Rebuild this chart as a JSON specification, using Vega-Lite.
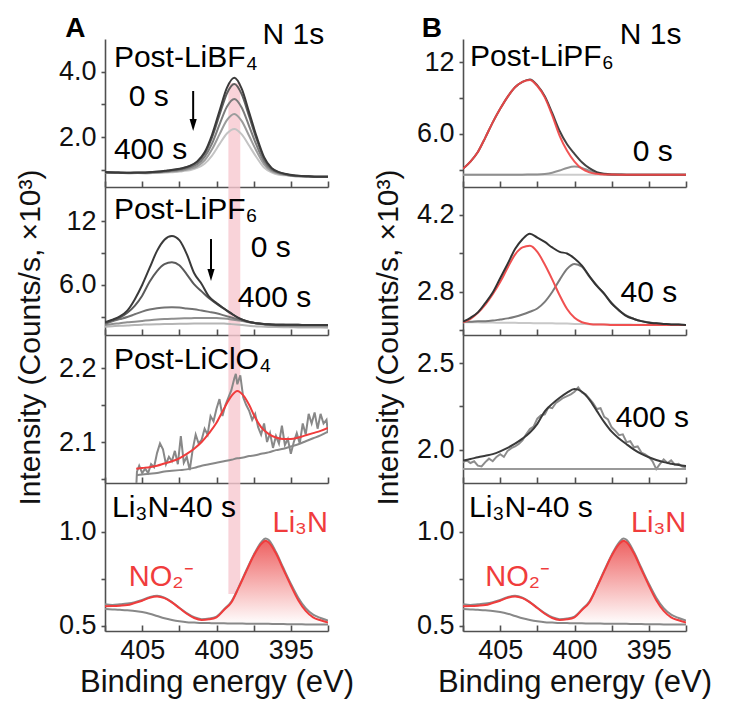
{
"$schema":"https://vega.github.io/schema/vega-lite/v6.json",
"autosize":{"type":"pad"},
"padding":{"left":14,"top":14,"right":4,"bottom":4},
"config":{"view":{"stroke":null},
 "axis":{"domainColor":"#505050","domainWidth":1.6,"tickColor":"#505050","tickWidth":1.6,"grid":false,"labelFont":"Liberation Sans","labelFontSize":27,"labelColor":"#111","titleFont":"Liberation Sans","titleFontSize":30,"titleFontWeight":"normal","titleColor":"#111","labelFlush":false,"labelOverlap":false},
 "text":{"font":"Liberation Sans"}},
"datasets":{
"a1":[
{"e":407.5,"l5":0.92,"l4":0.91,"l3":0.91,"l2":0.91,"l1":0.91},
{"e":406.8,"l5":0.91,"l4":0.91,"l3":0.90,"l2":0.90,"l1":0.90},
{"e":406.3,"l5":0.90,"l4":0.90,"l3":0.90,"l2":0.90,"l1":0.89},
{"e":405.8,"l5":0.90,"l4":0.90,"l3":0.89,"l2":0.89,"l1":0.88},
{"e":405.3,"l5":0.91,"l4":0.90,"l3":0.90,"l2":0.89,"l1":0.89},
{"e":404.8,"l5":0.91,"l4":0.90,"l3":0.90,"l2":0.89,"l1":0.88},
{"e":404.3,"l5":0.92,"l4":0.92,"l3":0.91,"l2":0.90,"l1":0.89},
{"e":403.8,"l5":0.94,"l4":0.94,"l3":0.92,"l2":0.91,"l1":0.90},
{"e":403.3,"l5":0.97,"l4":0.96,"l3":0.94,"l2":0.93,"l1":0.91},
{"e":402.8,"l5":1.00,"l4":0.99,"l3":0.97,"l2":0.95,"l1":0.92},
{"e":402.3,"l5":1.04,"l4":1.03,"l3":1.00,"l2":0.97,"l1":0.95},
{"e":401.8,"l5":1.11,"l4":1.10,"l3":1.06,"l2":1.02,"l1":0.98},
{"e":401.3,"l5":1.25,"l4":1.22,"l3":1.16,"l2":1.10,"l1":1.05},
{"e":400.8,"l5":1.53,"l4":1.49,"l3":1.39,"l2":1.28,"l1":1.18},
{"e":400.3,"l5":2.07,"l4":1.99,"l3":1.80,"l2":1.62,"l1":1.43},
{"e":399.8,"l5":2.80,"l4":2.68,"l3":2.38,"l2":2.08,"l1":1.78},
{"e":399.3,"l5":3.51,"l4":3.34,"l3":2.93,"l2":2.52,"l1":2.11},
{"e":398.8,"l5":3.82,"l4":3.63,"l3":3.17,"l2":2.71,"l1":2.25},
{"e":398.3,"l5":3.48,"l4":3.31,"l3":2.90,"l2":2.49,"l1":2.08},
{"e":397.8,"l5":2.75,"l4":2.63,"l3":2.33,"l2":2.03,"l1":1.73},
{"e":397.3,"l5":2.01,"l4":1.93,"l3":1.74,"l2":1.56,"l1":1.37},
{"e":396.8,"l5":1.38,"l4":1.34,"l3":1.25,"l2":1.16,"l1":1.06},
{"e":396.3,"l5":1.05,"l4":1.03,"l3":0.99,"l2":0.95,"l1":0.91},
{"e":395.8,"l5":0.92,"l4":0.91,"l3":0.89,"l2":0.87,"l1":0.84},
{"e":395.3,"l5":0.86,"l4":0.85,"l3":0.84,"l2":0.83,"l1":0.82},
{"e":394.8,"l5":0.82,"l4":0.81,"l3":0.81,"l2":0.80,"l1":0.79},
{"e":394.3,"l5":0.80,"l4":0.80,"l3":0.79,"l2":0.79,"l1":0.78},
{"e":393.8,"l5":0.79,"l4":0.79,"l3":0.79,"l2":0.78,"l1":0.78},
{"e":393.3,"l5":0.78,"l4":0.78,"l3":0.78,"l2":0.78,"l1":0.78},
{"e":392.8,"l5":0.78,"l4":0.78,"l3":0.78,"l2":0.78,"l1":0.78},
{"e":392.5,"l5":0.78,"l4":0.78,"l3":0.78,"l2":0.78,"l1":0.78}],
"a2":[
{"e":407.5,"l5":2.50,"l4":2.44,"l3":2.34,"l2":2.25,"l1":2.09},
{"e":407.0,"l5":2.75,"l4":2.70,"l3":2.60,"l2":2.35,"l1":2.13},
{"e":406.5,"l5":3.05,"l4":2.95,"l3":2.80,"l2":2.42,"l1":2.17},
{"e":406.0,"l5":3.60,"l4":3.40,"l3":3.00,"l2":2.50,"l1":2.20},
{"e":405.5,"l5":4.65,"l4":4.05,"l3":3.25,"l2":2.56,"l1":2.25},
{"e":405.0,"l5":6.00,"l4":5.00,"l3":3.50,"l2":2.63,"l1":2.28},
{"e":404.5,"l5":7.60,"l4":6.30,"l3":3.70,"l2":2.70,"l1":2.30},
{"e":404.0,"l5":9.20,"l4":7.30,"l3":3.82,"l2":2.76,"l1":2.32},
{"e":403.5,"l5":10.25,"l4":7.95,"l3":3.90,"l2":2.80,"l1":2.34},
{"e":403.0,"l5":10.60,"l4":8.13,"l3":3.92,"l2":2.83,"l1":2.35},
{"e":402.5,"l5":10.20,"l4":7.85,"l3":3.88,"l2":2.86,"l1":2.36},
{"e":402.0,"l5":8.90,"l4":7.00,"l3":3.80,"l2":2.88,"l1":2.37},
{"e":401.5,"l5":7.10,"l4":6.05,"l3":3.72,"l2":2.90,"l1":2.38},
{"e":401.0,"l5":6.10,"l4":5.40,"l3":3.60,"l2":2.91,"l1":2.39},
{"e":400.5,"l5":4.90,"l4":4.75,"l3":3.48,"l2":2.91,"l1":2.40},
{"e":400.0,"l5":4.30,"l4":4.25,"l3":3.35,"l2":2.90,"l1":2.40},
{"e":399.5,"l5":3.80,"l4":3.78,"l3":3.15,"l2":2.85,"l1":2.38},
{"e":399.0,"l5":3.33,"l4":3.30,"l3":2.95,"l2":2.77,"l1":2.33},
{"e":398.5,"l5":2.90,"l4":2.89,"l3":2.75,"l2":2.67,"l1":2.27},
{"e":398.0,"l5":2.62,"l4":2.61,"l3":2.58,"l2":2.55,"l1":2.20},
{"e":397.5,"l5":2.45,"l4":2.45,"l3":2.45,"l2":2.43,"l1":2.14},
{"e":397.0,"l5":2.37,"l4":2.37,"l3":2.36,"l2":2.33,"l1":2.10},
{"e":396.5,"l5":2.31,"l4":2.31,"l3":2.30,"l2":2.24,"l1":2.07},
{"e":396.0,"l5":2.28,"l4":2.28,"l3":2.27,"l2":2.18,"l1":2.05},
{"e":395.5,"l5":2.27,"l4":2.27,"l3":2.26,"l2":2.15,"l1":2.04},
{"e":395.0,"l5":2.26,"l4":2.26,"l3":2.25,"l2":2.14,"l1":2.03},
{"e":394.5,"l5":2.26,"l4":2.26,"l3":2.25,"l2":2.13,"l1":2.02},
{"e":394.0,"l5":2.25,"l4":2.25,"l3":2.25,"l2":2.13,"l1":2.02},
{"e":393.5,"l5":2.25,"l4":2.25,"l3":2.24,"l2":2.12,"l1":2.01},
{"e":393.0,"l5":2.25,"l4":2.25,"l3":2.24,"l2":2.12,"l1":2.01},
{"e":392.5,"l5":2.24,"l4":2.24,"l3":2.24,"l2":2.12,"l1":2.00}],
"a3f":[
{"e":405.4,"f":2.064,"b":2.055},{"e":405.0,"f":2.065,"b":2.056},{"e":404.5,"f":2.066,"b":2.057},{"e":404.0,"f":2.068,"b":2.058},
{"e":403.5,"f":2.071,"b":2.060},{"e":403.0,"f":2.074,"b":2.061},{"e":402.5,"f":2.078,"b":2.062},{"e":402.0,"f":2.084,"b":2.063},
{"e":401.5,"f":2.091,"b":2.065},{"e":401.0,"f":2.100,"b":2.068},{"e":400.5,"f":2.112,"b":2.070},{"e":400.0,"f":2.126,"b":2.072},
{"e":399.5,"f":2.145,"b":2.074},{"e":399.0,"f":2.162,"b":2.076},{"e":398.6,"f":2.169,"b":2.078},{"e":398.2,"f":2.163,"b":2.079},
{"e":397.8,"f":2.150,"b":2.081},{"e":397.4,"f":2.133,"b":2.082},{"e":397.0,"f":2.120,"b":2.084},{"e":396.5,"f":2.111,"b":2.086},
{"e":396.0,"f":2.106,"b":2.089},{"e":395.5,"f":2.104,"b":2.091},{"e":395.0,"f":2.104,"b":2.094},{"e":394.5,"f":2.106,"b":2.097},
{"e":394.0,"f":2.109,"b":2.101},{"e":393.5,"f":2.112,"b":2.105},{"e":393.0,"f":2.115,"b":2.109},{"e":392.5,"f":2.119,"b":2.114}],
"a3d":[
{"e":405.42,"v":2.03},{"e":405.35,"v":2.060},{"e":405.2,"v":2.068},{"e":405.0,"v":2.058},{"e":404.8,"v":2.064},{"e":404.6,"v":2.058},
{"e":404.4,"v":2.070},{"e":404.2,"v":2.066},{"e":404.0,"v":2.085},{"e":403.8,"v":2.098},{"e":403.6,"v":2.090},{"e":403.4,"v":2.070},
{"e":403.2,"v":2.080},{"e":403.0,"v":2.074},{"e":402.8,"v":2.088},{"e":402.6,"v":2.070},{"e":402.4,"v":2.108},{"e":402.2,"v":2.072},
{"e":402.0,"v":2.080},{"e":401.8,"v":2.062},{"e":401.6,"v":2.090},{"e":401.4,"v":2.110},{"e":401.2,"v":2.098},{"e":401.0,"v":2.103},
{"e":400.8,"v":2.118},{"e":400.6,"v":2.110},{"e":400.4,"v":2.135},{"e":400.2,"v":2.128},{"e":400.0,"v":2.145},{"e":399.8,"v":2.158},
{"e":399.6,"v":2.135},{"e":399.4,"v":2.150},{"e":399.2,"v":2.160},{"e":399.0,"v":2.170},{"e":398.8,"v":2.186},{"e":398.7,"v":2.192},
{"e":398.6,"v":2.178},{"e":398.4,"v":2.190},{"e":398.2,"v":2.160},{"e":398.0,"v":2.150},{"e":397.8,"v":2.142},{"e":397.6,"v":2.130},
{"e":397.4,"v":2.138},{"e":397.2,"v":2.120},{"e":397.0,"v":2.110},{"e":396.8,"v":2.125},{"e":396.6,"v":2.100},{"e":396.4,"v":2.112},
{"e":396.2,"v":2.092},{"e":396.0,"v":2.108},{"e":395.8,"v":2.098},{"e":395.6,"v":2.122},{"e":395.4,"v":2.096},{"e":395.2,"v":2.104},
{"e":395.0,"v":2.084},{"e":394.8,"v":2.100},{"e":394.6,"v":2.112},{"e":394.4,"v":2.098},{"e":394.2,"v":2.125},{"e":394.0,"v":2.110},
{"e":393.8,"v":2.138},{"e":393.6,"v":2.125},{"e":393.4,"v":2.140},{"e":393.2,"v":2.118},{"e":393.0,"v":2.138},{"e":392.8,"v":2.125},
{"e":392.6,"v":2.130},{"e":392.5,"v":2.112}],
"li":[
{"e":407.5,"f":0.605,"b":0.590,"d":0.615},{"e":407.0,"f":0.606,"b":0.588,"d":0.612},{"e":406.5,"f":0.608,"b":0.586,"d":0.615},
{"e":406.0,"f":0.611,"b":0.583,"d":0.619},{"e":405.5,"f":0.622,"b":0.580,"d":0.626},{"e":405.0,"f":0.634,"b":0.574,"d":0.638},
{"e":404.5,"f":0.650,"b":0.565,"d":0.653},{"e":404.0,"f":0.657,"b":0.553,"d":0.661},{"e":403.5,"f":0.648,"b":0.541,"d":0.651},
{"e":403.0,"f":0.625,"b":0.532,"d":0.627},{"e":402.5,"f":0.595,"b":0.525,"d":0.597},{"e":402.0,"f":0.565,"b":0.520,"d":0.568},
{"e":401.5,"f":0.542,"b":0.518,"d":0.546},{"e":401.0,"f":0.532,"b":0.516,"d":0.536},{"e":400.5,"f":0.535,"b":0.515,"d":0.539},
{"e":400.0,"f":0.546,"b":0.514,"d":0.550},{"e":399.5,"f":0.585,"b":0.514,"d":0.588},{"e":399.0,"f":0.625,"b":0.513,"d":0.630},
{"e":398.5,"f":0.705,"b":0.513,"d":0.708},{"e":398.0,"f":0.790,"b":0.512,"d":0.795},{"e":397.5,"f":0.873,"b":0.512,"d":0.878},
{"e":397.0,"f":0.935,"b":0.511,"d":0.945},{"e":396.7,"f":0.953,"b":0.511,"d":0.965},{"e":396.5,"f":0.945,"b":0.511,"d":0.958},
{"e":396.0,"f":0.885,"b":0.510,"d":0.893},{"e":395.5,"f":0.800,"b":0.510,"d":0.808},{"e":395.0,"f":0.715,"b":0.509,"d":0.725},
{"e":394.5,"f":0.637,"b":0.509,"d":0.650},{"e":394.0,"f":0.580,"b":0.508,"d":0.594},{"e":393.5,"f":0.546,"b":0.508,"d":0.560},
{"e":393.0,"f":0.530,"b":0.507,"d":0.542},{"e":392.5,"f":0.518,"b":0.507,"d":0.528}],
"lia":[
{"e":400.5,"v":0.535,"b":0.515},{"e":400.0,"v":0.546,"b":0.514},{"e":399.5,"v":0.585,"b":0.514},{"e":399.0,"v":0.625,"b":0.513},
{"e":398.5,"v":0.705,"b":0.513},{"e":398.0,"v":0.790,"b":0.512},{"e":397.5,"v":0.873,"b":0.512},{"e":397.0,"v":0.935,"b":0.511},
{"e":396.7,"v":0.953,"b":0.511},{"e":396.5,"v":0.945,"b":0.511},{"e":396.0,"v":0.885,"b":0.510},{"e":395.5,"v":0.800,"b":0.510},
{"e":395.0,"v":0.715,"b":0.509},{"e":394.5,"v":0.637,"b":0.509},{"e":394.0,"v":0.580,"b":0.508},{"e":393.5,"v":0.546,"b":0.508},
{"e":393.0,"v":0.530,"b":0.507},{"e":392.5,"v":0.518,"b":0.507}],
"b1":[
{"e":407.5,"s":3.10,"r":3.10,"g":2.61,"b":2.60},{"e":407.0,"s":3.70,"r":3.70,"g":2.61,"b":2.60},{"e":406.5,"s":4.50,"r":4.50,"g":2.61,"b":2.60},
{"e":406.0,"s":5.70,"r":5.70,"g":2.61,"b":2.60},{"e":405.5,"s":6.97,"r":6.97,"g":2.61,"b":2.60},{"e":405.0,"s":8.10,"r":8.10,"g":2.61,"b":2.60},
{"e":404.5,"s":9.10,"r":9.10,"g":2.61,"b":2.60},{"e":404.0,"s":9.90,"r":9.90,"g":2.61,"b":2.60},{"e":403.5,"s":10.35,"r":10.35,"g":2.61,"b":2.60},
{"e":403.0,"s":10.55,"r":10.50,"g":2.62,"b":2.60},{"e":402.5,"s":10.05,"r":10.00,"g":2.63,"b":2.60},{"e":402.0,"s":9.15,"r":9.05,"g":2.67,"b":2.60},
{"e":401.5,"s":7.75,"r":7.55,"g":2.77,"b":2.60},{"e":401.0,"s":6.25,"r":5.85,"g":2.95,"b":2.60},{"e":400.5,"s":5.15,"r":4.60,"g":3.17,"b":2.60},
{"e":400.0,"s":4.35,"r":3.70,"g":3.28,"b":2.60},{"e":399.5,"s":3.65,"r":3.10,"g":3.17,"b":2.60},{"e":399.0,"s":3.15,"r":2.80,"g":2.93,"b":2.60},
{"e":398.5,"s":2.82,"r":2.68,"g":2.74,"b":2.60},{"e":398.0,"s":2.68,"r":2.63,"g":2.65,"b":2.60},{"e":397.5,"s":2.63,"r":2.62,"g":2.62,"b":2.60},
{"e":397.0,"s":2.62,"r":2.61,"g":2.61,"b":2.60},{"e":396.5,"s":2.61,"r":2.61,"g":2.61,"b":2.60},{"e":396.0,"s":2.61,"r":2.61,"g":2.61,"b":2.60},
{"e":395.0,"s":2.61,"r":2.61,"g":2.61,"b":2.60},{"e":394.0,"s":2.61,"r":2.61,"g":2.61,"b":2.60},{"e":393.0,"s":2.61,"r":2.61,"g":2.61,"b":2.60},
{"e":392.5,"s":2.61,"r":2.61,"g":2.61,"b":2.60}],
"b2":[
{"e":407.5,"s":2.26,"r":2.25,"g":2.26,"b":2.25},{"e":407.0,"s":2.33,"r":2.31,"g":2.26,"b":2.25},{"e":406.5,"s":2.43,"r":2.42,"g":2.27,"b":2.25},
{"e":406.0,"s":2.60,"r":2.57,"g":2.27,"b":2.245},{"e":405.5,"s":2.79,"r":2.76,"g":2.28,"b":2.245},{"e":405.0,"s":3.05,"r":2.98,"g":2.30,"b":2.24},
{"e":404.5,"s":3.31,"r":3.24,"g":2.32,"b":2.24},{"e":404.0,"s":3.58,"r":3.48,"g":2.35,"b":2.24},{"e":403.5,"s":3.76,"r":3.61,"g":2.39,"b":2.235},
{"e":403.0,"s":3.86,"r":3.64,"g":2.44,"b":2.235},{"e":402.5,"s":3.79,"r":3.53,"g":2.50,"b":2.23},{"e":402.0,"s":3.71,"r":3.30,"g":2.62,"b":2.23},
{"e":401.5,"s":3.61,"r":3.03,"g":2.80,"b":2.23},{"e":401.0,"s":3.53,"r":2.74,"g":3.02,"b":2.225},{"e":400.5,"s":3.50,"r":2.49,"g":3.22,"b":2.225},
{"e":400.0,"s":3.41,"r":2.33,"g":3.31,"b":2.22},{"e":399.5,"s":3.28,"r":2.25,"g":3.26,"b":2.22},{"e":399.0,"s":3.09,"r":2.22,"g":3.08,"b":2.215},
{"e":398.5,"s":2.91,"r":2.21,"g":2.92,"b":2.215},{"e":398.0,"s":2.77,"r":2.21,"g":2.76,"b":2.21},{"e":397.5,"s":2.59,"r":2.20,"g":2.60,"b":2.21},
{"e":397.0,"s":2.47,"r":2.20,"g":2.46,"b":2.21},{"e":396.5,"s":2.36,"r":2.20,"g":2.37,"b":2.21},{"e":396.0,"s":2.31,"r":2.20,"g":2.31,"b":2.205},
{"e":395.5,"s":2.27,"r":2.20,"g":2.27,"b":2.205},{"e":395.0,"s":2.24,"r":2.20,"g":2.25,"b":2.205},{"e":394.5,"s":2.23,"r":2.20,"g":2.23,"b":2.20},
{"e":394.0,"s":2.22,"r":2.20,"g":2.22,"b":2.20},{"e":393.5,"s":2.21,"r":2.20,"g":2.21,"b":2.20},{"e":393.0,"s":2.21,"r":2.20,"g":2.21,"b":2.20},
{"e":392.5,"s":2.20,"r":2.20,"g":2.20,"b":2.20}],
"b3f":[
{"e":407.5,"f":1.939,"b":1.89},{"e":407.0,"f":1.948,"b":1.89},{"e":406.5,"f":1.958,"b":1.89},{"e":406.0,"f":1.967,"b":1.89},
{"e":405.5,"f":1.976,"b":1.89},{"e":405.0,"f":1.992,"b":1.89},{"e":404.5,"f":2.012,"b":1.89},{"e":404.0,"f":2.036,"b":1.89},
{"e":403.5,"f":2.065,"b":1.89},{"e":403.0,"f":2.100,"b":1.89},{"e":402.5,"f":2.150,"b":1.89},{"e":402.0,"f":2.222,"b":1.89},
{"e":401.5,"f":2.265,"b":1.89},{"e":401.0,"f":2.300,"b":1.89},{"e":400.5,"f":2.330,"b":1.89},{"e":400.0,"f":2.350,"b":1.89},
{"e":399.5,"f":2.335,"b":1.89},{"e":399.0,"f":2.290,"b":1.89},{"e":398.5,"f":2.225,"b":1.89},{"e":398.0,"f":2.160,"b":1.89},
{"e":397.5,"f":2.105,"b":1.89},{"e":397.0,"f":2.066,"b":1.89},{"e":396.5,"f":2.033,"b":1.89},{"e":396.0,"f":2.002,"b":1.89},
{"e":395.5,"f":1.977,"b":1.89},{"e":395.0,"f":1.958,"b":1.89},{"e":394.5,"f":1.942,"b":1.89},{"e":394.0,"f":1.930,"b":1.89},
{"e":393.5,"f":1.921,"b":1.89},{"e":393.0,"f":1.913,"b":1.89},{"e":392.5,"f":1.907,"b":1.89}],
"b3d":[
{"e":407.5,"v":1.93},{"e":407.25,"v":1.94},{"e":407.0,"v":1.925},{"e":406.75,"v":1.935},{"e":406.5,"v":1.91},{"e":406.25,"v":1.905},
{"e":406.0,"v":1.93},{"e":405.75,"v":1.95},{"e":405.5,"v":1.935},{"e":405.25,"v":1.96},{"e":405.0,"v":1.975},{"e":404.75,"v":1.96},
{"e":404.5,"v":1.995},{"e":404.25,"v":2.01},{"e":404.0,"v":2.02},{"e":403.75,"v":2.035},{"e":403.5,"v":2.055},{"e":403.25,"v":2.09},
{"e":403.0,"v":2.12},{"e":402.75,"v":2.135},{"e":402.5,"v":2.18},{"e":402.25,"v":2.2},{"e":402.0,"v":2.205},{"e":401.75,"v":2.245},
{"e":401.5,"v":2.24},{"e":401.25,"v":2.27},{"e":401.0,"v":2.285},{"e":400.75,"v":2.3},{"e":400.5,"v":2.31},{"e":400.25,"v":2.32},
{"e":400.0,"v":2.335},{"e":399.75,"v":2.36},{"e":399.5,"v":2.33},{"e":399.25,"v":2.32},{"e":399.0,"v":2.295},{"e":398.75,"v":2.27},
{"e":398.5,"v":2.235},{"e":398.25,"v":2.24},{"e":398.0,"v":2.19},{"e":397.75,"v":2.175},{"e":397.5,"v":2.13},{"e":397.25,"v":2.11},
{"e":397.0,"v":2.085},{"e":396.75,"v":2.09},{"e":396.5,"v":2.045},{"e":396.25,"v":2.05},{"e":396.0,"v":2.015},{"e":395.75,"v":2.02},
{"e":395.5,"v":1.985},{"e":395.25,"v":1.975},{"e":395.0,"v":1.96},{"e":394.75,"v":1.935},{"e":394.5,"v":1.89},{"e":394.25,"v":1.92},
{"e":394.0,"v":1.945},{"e":393.75,"v":1.925},{"e":393.5,"v":1.94},{"e":393.25,"v":1.915},{"e":393.0,"v":1.92},{"e":392.75,"v":1.905},
{"e":392.5,"v":1.9}]
},
"hconcat":[
{"vconcat":[
 {"width":223,"height":148,
  "encoding":{"x":{"field":"e","type":"quantitative","scale":{"domain":[392.5,407.5],"reverse":true,"nice":false,"zero":false},"axis":{"values":[407.5,405,402.5,400,397.5,395,392.5],"labels":false,"tickSize":-6,"title":null}},
   "y":{"field":"v","type":"quantitative","scale":{"domain":[0.462,5.015],"nice":false,"zero":false},"axis":{"values":[1,2,3,4],"tickSize":4,"labelPadding":5,"labelExpr":"datum.value==2?'2.0':datum.value==4?'4.0':''","title":null}}},
  "layer":[
   {"data":{"values":[{"e":399.2,"e2":398.4,"v":0.462,"v2":3.65}]},"mark":{"type":"rect","color":"#f8c8cf","opacity":0.8},"encoding":{"x2":{"field":"e2"},"y2":{"field":"v2"}}},
   {"data":{"name":"a1"},"transform":[{"fold":["l1","l2","l3","l4","l5"],"as":["k","v"]}],"mark":{"type":"line","strokeWidth":2,"interpolate":"monotone","clip":true},"encoding":{"color":{"field":"k","type":"nominal","scale":{"domain":["l1","l2","l3","l4","l5"],"range":["#c4c4c4","#9c9c9c","#7c7c7c","#5e5e5e","#3a3a3a"]},"legend":null}}},
   {"data":{"values":[{"e":406.9,"v":4.15,"t":"Post-LiBF₄"},{"e":396.9,"v":4.86,"t":"N 1s"},{"e":405.9,"v":2.95,"t":"0 s"},{"e":406.9,"v":1.32,"t":"400 s"}]},"mark":{"type":"text","align":"left","baseline":"alphabetic","fontSize":30,"color":"#000"},"encoding":{"text":{"field":"t"}}},
   {"data":{"values":[{"e":409.5,"v":5.08,"t":"A"}]},"mark":{"type":"text","align":"center","baseline":"alphabetic","fontSize":28,"fontWeight":"bold","color":"#000"},"encoding":{"text":{"field":"t"}}},
   {"data":{"values":[{"e":401.57,"v":3.415,"v2":2.37}]},"mark":{"type":"rule","strokeWidth":2,"color":"#000"},"encoding":{"y2":{"field":"v2"}}},
   {"data":{"values":[{"e":401.57,"v":2.37}]},"mark":{"type":"point","shape":"M-0.6,-1L0.6,-1L0,1Z","size":144,"filled":true,"color":"#000","opacity":1},"encoding":{}}
  ]},
 {"width":223,"height":148,
  "encoding":{"x":{"field":"e","type":"quantitative","scale":{"domain":[392.5,407.5],"reverse":true,"nice":false,"zero":false},"axis":{"values":[407.5,405,402.5,400,397.5,395,392.5],"labels":false,"tickSize":-6,"title":null}},
   "y":{"field":"v","type":"quantitative","scale":{"domain":[1.31,15.19],"nice":false,"zero":false},"axis":{"values":[3,6,9,12],"tickSize":4,"labelPadding":5,"labelExpr":"datum.value==6?'6.0':datum.value==12?'12':''","title":"Intensity (Counts/s, ×10³)","titleAngle":270,"titleAlign":"center","titleBaseline":"top","titleX":-90,"titleY":150}}},
  "layer":[
   {"data":{"values":[{"e":399.2,"e2":398.4,"v":1.31,"v2":15.19}]},"mark":{"type":"rect","color":"#f8c8cf","opacity":0.8},"encoding":{"x2":{"field":"e2"},"y2":{"field":"v2"}}},
   {"data":{"name":"a2"},"transform":[{"fold":["l1","l2","l3","l4","l5"],"as":["k","v"]}],"mark":{"type":"line","strokeWidth":2,"interpolate":"monotone","clip":true},"encoding":{"color":{"field":"k","type":"nominal","scale":{"domain":["l1","l2","l3","l4","l5"],"range":["#b5b5b5","#8f8f8f","#737373","#5a5a5a","#3a3a3a"]},"legend":null}}},
   {"data":{"values":[{"e":406.9,"v":12.19,"t":"Post-LiPF₆"},{"e":397.7,"v":8.63,"t":"0 s"},{"e":398.57,"v":3.94,"t":"400 s"}]},"mark":{"type":"text","align":"left","baseline":"alphabetic","fontSize":30,"color":"#000"},"encoding":{"text":{"field":"t"}}},
   {"data":{"values":[{"e":400.37,"v":10.31,"v2":6.94}]},"mark":{"type":"rule","strokeWidth":2,"color":"#000"},"encoding":{"y2":{"field":"v2"}}},
   {"data":{"values":[{"e":400.37,"v":6.94}]},"mark":{"type":"point","shape":"M-0.6,-1L0.6,-1L0,1Z","size":144,"filled":true,"color":"#000","opacity":1},"encoding":{}}
  ]},
 {"width":223,"height":148,
  "encoding":{"x":{"field":"e","type":"quantitative","scale":{"domain":[392.5,407.5],"reverse":true,"nice":false,"zero":false},"axis":{"values":[407.5,405,402.5,400,397.5,395,392.5],"labels":false,"tickSize":-6,"title":null}},
   "y":{"field":"v","type":"quantitative","scale":{"domain":[2.0446,2.2446],"nice":false,"zero":false},"axis":{"values":[2.05,2.1,2.15,2.2],"tickSize":4,"labelPadding":5,"labelExpr":"datum.value==2.1?'2.1':datum.value==2.2?'2.2':''","title":null}}},
  "layer":[
   {"data":{"values":[{"e":399.2,"e2":398.4,"v":2.0446,"v2":2.2446}]},"mark":{"type":"rect","color":"#f8c8cf","opacity":0.8},"encoding":{"x2":{"field":"e2"},"y2":{"field":"v2"}}},
   {"data":{"name":"a3d"},"mark":{"type":"line","strokeWidth":2,"color":"#888888","clip":true},"encoding":{}},
   {"data":{"name":"a3f"},"transform":[{"fold":["b","f"],"as":["k","v"]}],"mark":{"type":"line","strokeWidth":2,"interpolate":"monotone","clip":true},"encoding":{"color":{"field":"k","type":"nominal","scale":{"domain":["b","f"],"range":["#888888","#f03c3c"]},"legend":null}}},
   {"data":{"values":[{"e":406.9,"v":2.1987,"t":"Post-LiClO₄"}]},"mark":{"type":"text","align":"left","baseline":"alphabetic","fontSize":30,"color":"#000"},"encoding":{"text":{"field":"t"}}}
  ]},
 {"width":223,"height":148,
  "encoding":{"x":{"field":"e","type":"quantitative","scale":{"domain":[392.5,407.5],"reverse":true,"nice":false,"zero":false},"axis":{"values":[407.5,405,402.5,400,397.5,395,392.5],"tickSize":-6,"labelPadding":12,"labelExpr":"datum.value==405?'405':datum.value==400?'400':datum.value==395?'395':''","title":"Binding energy (eV)","titlePadding":4,"titleFontSize":31}},
   "y":{"field":"v","type":"quantitative","scale":{"domain":[0.473,1.2606],"nice":false,"zero":false},"axis":{"values":[0.5,0.75,1],"tickSize":4,"labelPadding":5,"labelExpr":"datum.value==0.5?'0.5':datum.value==1?'1.0':''","title":null}}},
  "layer":[
   {"data":{"values":[{"e":399.2,"e2":398.4,"v":0.67,"v2":1.2606}]},"mark":{"type":"rect","color":"#f8c8cf","opacity":0.8},"encoding":{"x2":{"field":"e2"},"y2":{"field":"v2"}}},
   {"data":{"name":"lia"},"mark":{"type":"area","interpolate":"monotone","color":{"gradient":"linear","x1":0,"y1":0,"x2":0,"y2":1,"stops":[{"offset":0,"color":"#ee6262"},{"offset":1,"color":"#ffffff"}]}},"encoding":{"y2":{"field":"b"}}},
   {"data":{"name":"li"},"transform":[{"fold":["b","d","f"],"as":["k","v"]}],"mark":{"type":"line","strokeWidth":2,"interpolate":"monotone","clip":true},"encoding":{"color":{"field":"k","type":"nominal","scale":{"domain":["b","d","f"],"range":["#888888","#8a8a8a","#f03c3c"]},"legend":null}}},
   {"data":{"values":[{"e":407.03,"v":1.08,"t":"Li₃N-40 s"}]},"mark":{"type":"text","align":"left","baseline":"alphabetic","fontSize":30,"color":"#000"},"encoding":{"text":{"field":"t"}}},
   {"data":{"values":[{"e":396.23,"v":1.0,"t":"Li₃N"},{"e":405.9,"v":0.713,"t":"NO₂⁻"}]},"mark":{"type":"text","align":"left","baseline":"alphabetic","fontSize":29,"color":"#f03c3c"},"encoding":{"text":{"field":"t"}}}
  ]}
 ],"spacing":0,"bounds":"flush","resolve":{"scale":{"color":"independent"}}},
{"vconcat":[
 {"width":223,"height":148,
  "encoding":{"x":{"field":"e","type":"quantitative","scale":{"domain":[392.5,407.5],"reverse":true,"nice":false,"zero":false},"axis":{"values":[407.5,405,402.5,400,397.5,395,392.5],"labels":false,"tickSize":-6,"title":null}},
   "y":{"field":"v","type":"quantitative","scale":{"domain":[1.58,13.92],"nice":false,"zero":false},"axis":{"values":[3,6,9,12],"tickSize":4,"labelPadding":5,"labelExpr":"datum.value==6?'6.0':datum.value==12?'12':''","title":null}}},
  "layer":[
   {"data":{"name":"b1"},"transform":[{"fold":["b","g","s","r"],"as":["k","v"]}],"mark":{"type":"line","strokeWidth":2,"interpolate":"monotone","clip":true},"encoding":{"color":{"field":"k","type":"nominal","scale":{"domain":["b","g","s","r"],"range":["#c8c8c8","#8a8a8a","#333333","#f04646"]},"legend":null},"opacity":{"value":0.92}}},
   {"data":{"values":[{"e":407.03,"v":11.67,"t":"Post-LiPF₆"},{"e":396.96,"v":13.5,"t":"N 1s"},{"e":396.08,"v":3.75,"t":"0 s"}]},"mark":{"type":"text","align":"left","baseline":"alphabetic","fontSize":30,"color":"#000"},"encoding":{"text":{"field":"t"}}},
   {"data":{"values":[{"e":409.6,"v":14.09,"t":"B"}]},"mark":{"type":"text","align":"center","baseline":"alphabetic","fontSize":28,"fontWeight":"bold","color":"#000"},"encoding":{"text":{"field":"t"}}}
  ]},
 {"width":223,"height":148,
  "encoding":{"x":{"field":"e","type":"quantitative","scale":{"domain":[392.5,407.5],"reverse":true,"nice":false,"zero":false},"axis":{"values":[407.5,405,402.5,400,397.5,395,392.5],"labels":false,"tickSize":-6,"title":null}},
   "y":{"field":"v","type":"quantitative","scale":{"domain":[2.018,4.709],"nice":false,"zero":false},"axis":{"values":[2.1,2.8,3.5,4.2],"tickSize":4,"labelPadding":5,"labelExpr":"datum.value==2.8?'2.8':datum.value==4.2?'4.2':''","title":"Intensity (Counts/s, ×10³)","titleAngle":270,"titleAlign":"center","titleBaseline":"top","titleX":-90,"titleY":150}}},
  "layer":[
   {"data":{"name":"b2"},"transform":[{"fold":["b","g","r","s"],"as":["k","v"]}],"mark":{"type":"line","strokeWidth":2,"interpolate":"monotone","clip":true},"encoding":{"color":{"field":"k","type":"nominal","scale":{"domain":["b","g","r","s"],"range":["#c8c8c8","#7a7a7a","#f05050","#333333"]},"legend":null}}},
   {"data":{"values":[{"e":396.9,"v":2.618,"t":"40 s"}]},"mark":{"type":"text","align":"left","baseline":"alphabetic","fontSize":30,"color":"#000"},"encoding":{"text":{"field":"t"}}}
  ]},
 {"width":223,"height":148,
  "encoding":{"x":{"field":"e","type":"quantitative","scale":{"domain":[392.5,407.5],"reverse":true,"nice":false,"zero":false},"axis":{"values":[407.5,405,402.5,400,397.5,395,392.5],"labels":false,"tickSize":-6,"title":null}},
   "y":{"field":"v","type":"quantitative","scale":{"domain":[1.81,2.661],"nice":false,"zero":false},"axis":{"values":[2,2.25,2.5],"tickSize":4,"labelPadding":5,"labelExpr":"datum.value==2?'2.0':datum.value==2.5?'2.5':''","title":null}}},
  "layer":[
   {"data":{"name":"b3d"},"mark":{"type":"line","strokeWidth":2,"color":"#8c8c8c","clip":true},"encoding":{}},
   {"data":{"name":"b3f"},"transform":[{"fold":["b","f"],"as":["k","v"]}],"mark":{"type":"line","strokeWidth":2,"interpolate":"monotone","clip":true},"encoding":{"color":{"field":"k","type":"nominal","scale":{"domain":["b","f"],"range":["#999999","#3a3a3a"]},"legend":null}}},
   {"data":{"values":[{"e":397.23,"v":2.132,"t":"400 s"}]},"mark":{"type":"text","align":"left","baseline":"alphabetic","fontSize":30,"color":"#000"},"encoding":{"text":{"field":"t"}}}
  ]},
 {"width":223,"height":148,
  "encoding":{"x":{"field":"e","type":"quantitative","scale":{"domain":[392.5,407.5],"reverse":true,"nice":false,"zero":false},"axis":{"values":[407.5,405,402.5,400,397.5,395,392.5],"tickSize":-6,"labelPadding":12,"labelExpr":"datum.value==405?'405':datum.value==400?'400':datum.value==395?'395':''","title":"Binding energy (eV)","titlePadding":4,"titleFontSize":31}},
   "y":{"field":"v","type":"quantitative","scale":{"domain":[0.473,1.2606],"nice":false,"zero":false},"axis":{"values":[0.5,0.75,1],"tickSize":4,"labelPadding":5,"labelExpr":"datum.value==0.5?'0.5':datum.value==1?'1.0':''","title":null}}},
  "layer":[
   {"data":{"name":"lia"},"mark":{"type":"area","interpolate":"monotone","color":{"gradient":"linear","x1":0,"y1":0,"x2":0,"y2":1,"stops":[{"offset":0,"color":"#ee6262"},{"offset":1,"color":"#ffffff"}]}},"encoding":{"y2":{"field":"b"}}},
   {"data":{"name":"li"},"transform":[{"fold":["b","d","f"],"as":["k","v"]}],"mark":{"type":"line","strokeWidth":2,"interpolate":"monotone","clip":true},"encoding":{"color":{"field":"k","type":"nominal","scale":{"domain":["b","d","f"],"range":["#888888","#8a8a8a","#f03c3c"]},"legend":null}}},
   {"data":{"values":[{"e":407.1,"v":1.08,"t":"Li₃N-40 s"}]},"mark":{"type":"text","align":"left","baseline":"alphabetic","fontSize":30,"color":"#000"},"encoding":{"text":{"field":"t"}}},
   {"data":{"values":[{"e":396.2,"v":1.0,"t":"Li₃N"},{"e":406.0,"v":0.713,"t":"NO₂⁻"}]},"mark":{"type":"text","align":"left","baseline":"alphabetic","fontSize":29,"color":"#f03c3c"},"encoding":{"text":{"field":"t"}}}
  ]}
 ],"spacing":0,"bounds":"flush","resolve":{"scale":{"color":"independent"}}}
],
"spacing":358,
"bounds":"flush",
"resolve":{"scale":{"color":"independent"}}
}
